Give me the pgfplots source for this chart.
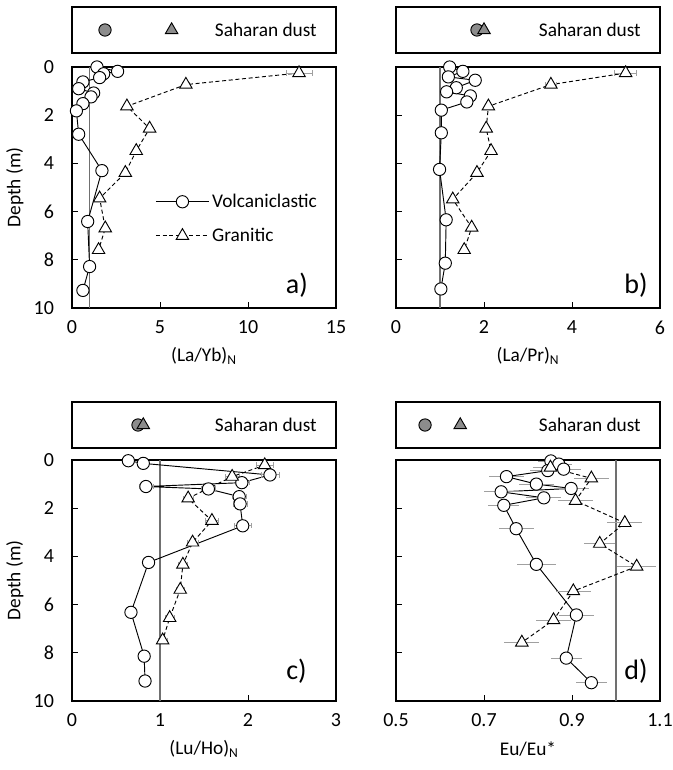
\documentclass[border=0pt]{standalone}
\usepackage{pgfplots}
\pgfplotsset{compat=1.18}
\usepackage{fontspec}
\setmainfont{Carlito}
\definecolor{errgray}{HTML}{A0A0A0}
\definecolor{refgray}{HTML}{707070}
\definecolor{dustgray}{HTML}{8C8C8C}
\pgfplotsset{
  panel/.style={
    scale only axis, width=198pt, height=180.75pt, anchor=north west,
    y dir=reverse, ymin=0, ymax=10, ytick={0,2,...,10},
    tick align=inside, major tick length=4.5pt,
    xtick pos=bottom, ytick pos=left,
    font=\fontsize{14.5}{16}\selectfont,
    tick label style={font=\fontsize{15}{17}\selectfont},
    /pgf/number format/assume math mode=true,
    axis line style={line width=0.8pt},
    tick style={black, line width=0.6pt},
    clip=false,
    xticklabel style={yshift=-6pt},
    yticklabel style={xshift=-10pt},
    ylabel style={at={(axis description cs:-0.216,0.5)}, anchor=center},
    xlabel style={at={(axis description cs:0.5,-0.2)}, anchor=center},
  },
  dustbox/.style={
    scale only axis, width=198pt, height=34.5pt, anchor=north west,
    ymin=0, ymax=1, ticks=none, clip=false,
    axis line style={line width=0.8pt},
  },
  vol/.style={black, line width=0.7pt, mark=*, mark size=4.6pt, mark options={fill=white, solid},
    error bars/.cd, x dir=both, x explicit, error bar style={errgray, solid, line width=0.7pt},
    error mark options={errgray, mark size=2pt, rotate=90}},
  gra/.style={black, line width=0.7pt, dash pattern=on 3pt off 2pt, mark=triangle*, mark size=5.4pt, mark options={fill=white, solid},
    error bars/.cd, x dir=both, x explicit, error bar style={errgray, solid, line width=0.7pt},
    error mark options={errgray, mark size=2pt, rotate=90}},
  dustc/.style={only marks, mark=*, mark size=4.6pt, mark options={fill=dustgray, draw=black, line width=0.7pt}},
  dustt/.style={only marks, mark=triangle*, mark size=5.4pt, mark options={fill=dustgray, draw=black, line width=0.7pt}},
}
\newcommand{\dustlabel}{\node[anchor=east, inner sep=0pt, font=\fontsize{14.5}{16}\selectfont] at (axis description cs:0.928,0.5) {Saharan dust};}
\newcommand{\panellabel}[3]{\node[anchor=south east, inner sep=0pt, font=\fontsize{21}{25}\selectfont] at (axis description cs:#1,#2) {#3};}

\begin{document}
\begin{tikzpicture}
\useasboundingbox (0,0) rectangle (504pt,-577.5pt);

% ---------------- panel a ----------------
\begin{axis}[dustbox, at={(54pt,-5.25pt)}, xmin=0, xmax=15]
\addplot[dustc] coordinates {(1.875,0.5)};
\addplot[dustt] coordinates {(5.66,0.5)};
\dustlabel
\end{axis}
\begin{axis}[panel, at={(54pt,-50.25pt)}, xmin=0, xmax=15, xtick={0,5,10,15},
  ylabel={Depth (m)}, xlabel={(La/Yb)\textsubscript{N}},
  legend style={draw=none, fill=none, at={(axis description cs:0.315,0.485)}, anchor=north west,
    font=\fontsize{14.5}{16}\selectfont, row sep=10pt, inner sep=0pt},
  legend cell align=left,
  legend image code/.code={\draw[mark repeat=2, mark phase=2, #1] plot coordinates {(0cm,0cm) (0.7cm,0cm) (1.4cm,0cm)};}]
\addplot[refgray, line width=0.8pt, forget plot] coordinates {(1,0) (1,10)};
\addplot[vol] table[x=x, y=y, x error=e] {
x y e
1.42 0.00 0.05
2.59 0.18 0.05
1.80 0.28 0.05
1.57 0.44 0.05
0.62 0.62 0.05
0.38 0.90 0.05
1.23 1.08 0.05
1.08 1.24 0.05
0.62 1.52 0.05
0.25 1.82 0.05
0.38 2.79 0.05
1.70 4.30 0.05
0.89 6.41 0.05
1.00 8.28 0.05
0.62 9.27 0.05
};
\addplot[gra] table[x=x, y=y, x error=e] {
x y e
12.9 0.25 0.75
6.47 0.73 0.2
3.12 1.63 0.1
4.41 2.55 0.1
3.65 3.48 0.1
3.03 4.39 0.1
1.57 5.45 0.05
1.89 6.69 0.05
1.51 7.59 0.05
};
\legend{Volcaniclastic, Granitic}
\panellabel{0.894}{0.041}{a)}
\end{axis}

% ---------------- panel b ----------------
\begin{axis}[dustbox, at={(297pt,-5.25pt)}, xmin=0, xmax=6]
\addplot[dustc] coordinates {(1.84,0.5)};
\addplot[dustt] coordinates {(2.0,0.5)};
\dustlabel
\end{axis}
\begin{axis}[panel, at={(297pt,-50.25pt)}, xmin=0, xmax=6, xtick={0,2,4,6}, yticklabels={},
  xlabel={(La/Pr)\textsubscript{N}}]
\addplot[refgray, line width=0.8pt, forget plot] coordinates {(1,0) (1,10)};
\addplot[vol] table[x=x, y=y, x error=e] {
x y e
1.22 0.00 0.02
1.52 0.18 0.02
1.19 0.41 0.02
1.80 0.55 0.02
1.37 0.86 0.02
1.15 1.03 0.02
1.69 1.20 0.02
1.61 1.45 0.02
1.03 1.79 0.02
1.03 2.73 0.02
0.99 4.25 0.02
1.14 6.34 0.02
1.12 8.14 0.02
1.02 9.21 0.02
};
\addplot[gra] table[x=x, y=y, x error=e] {
x y e
5.22 0.25 0.25
3.52 0.73 0.12
2.10 1.63 0.05
2.05 2.55 0.05
2.16 3.48 0.05
1.84 4.39 0.05
1.29 5.49 0.05
1.72 6.66 0.05
1.55 7.59 0.05
};
\panellabel{0.954}{0.041}{b)}
\end{axis}

% ---------------- panel c ----------------
\begin{axis}[dustbox, at={(54pt,-301.5pt)}, xmin=0, xmax=3]
\addplot[dustc] coordinates {(0.75,0.5)};
\addplot[dustt] coordinates {(0.81,0.5)};
\dustlabel
\end{axis}
\begin{axis}[panel, at={(54pt,-345pt)}, xmin=0, xmax=3, xtick={0,1,2,3},
  ylabel={Depth (m)}, xlabel={(Lu/Ho)\textsubscript{N}}]
\addplot[refgray, line width=0.8pt, forget plot] coordinates {(1,0) (1,10)};
\addplot[vol] table[x=x, y=y, x error=e] {
x y e
0.64 0.03 0.03
0.81 0.14 0.05
2.25 0.62 0.10
1.93 0.94 0.08
0.84 1.10 0.08
1.55 1.20 0.08
1.90 1.52 0.08
1.91 1.82 0.08
1.94 2.73 0.10
0.87 4.25 0.05
0.67 6.32 0.05
0.82 8.14 0.05
0.83 9.17 0.05
};
\addplot[gra] table[x=x, y=y, x error=e] {
x y e
2.19 0.21 0.10
1.82 0.69 0.08
1.32 1.59 0.06
1.59 2.52 0.07
1.37 3.42 0.06
1.26 4.34 0.05
1.23 5.38 0.05
1.11 6.55 0.05
1.03 7.48 0.05
};
\panellabel{0.89}{0.07}{c)}
\end{axis}

% ---------------- panel d ----------------
\begin{axis}[dustbox, at={(297pt,-301.5pt)}, xmin=0.5, xmax=1.1]
\addplot[dustc] coordinates {(0.566,0.5)};
\addplot[dustt] coordinates {(0.646,0.5)};
\dustlabel
\end{axis}
\begin{axis}[panel, at={(297pt,-345pt)}, xmin=0.5, xmax=1.1, xtick={0.5,0.7,0.9,1.1}, yticklabels={},
  xticklabel style={/pgf/number format/.cd, fixed, fixed zerofill, precision=1},
  xlabel={Eu/Eu*}]
\addplot[refgray, line width=0.8pt, forget plot] coordinates {(1,0) (1,10)};
\addplot[vol, error mark=none] table[x=x, y=y, x error=e] {
x y e
0.852 0.04 0.03
0.870 0.17 0.03
0.881 0.38 0.04
0.845 0.44 0.04
0.751 0.69 0.04
0.819 1.00 0.04
0.898 1.18 0.04
0.739 1.32 0.04
0.836 1.57 0.04
0.745 1.88 0.035
0.773 2.85 0.04
0.819 4.33 0.045
0.910 6.43 0.04
0.887 8.22 0.035
0.944 9.24 0.035
};
\addplot[gra, error mark=none] table[x=x, y=y, x error=e] {
x y e
0.851 0.31 0.04
0.944 0.76 0.04
0.908 1.69 0.04
1.020 2.61 0.04
0.963 3.47 0.035
1.047 4.42 0.045
0.903 5.44 0.04
0.858 6.64 0.04
0.786 7.57 0.04
};
\panellabel{0.954}{0.07}{d)}
\end{axis}
\end{tikzpicture}
\end{document}
